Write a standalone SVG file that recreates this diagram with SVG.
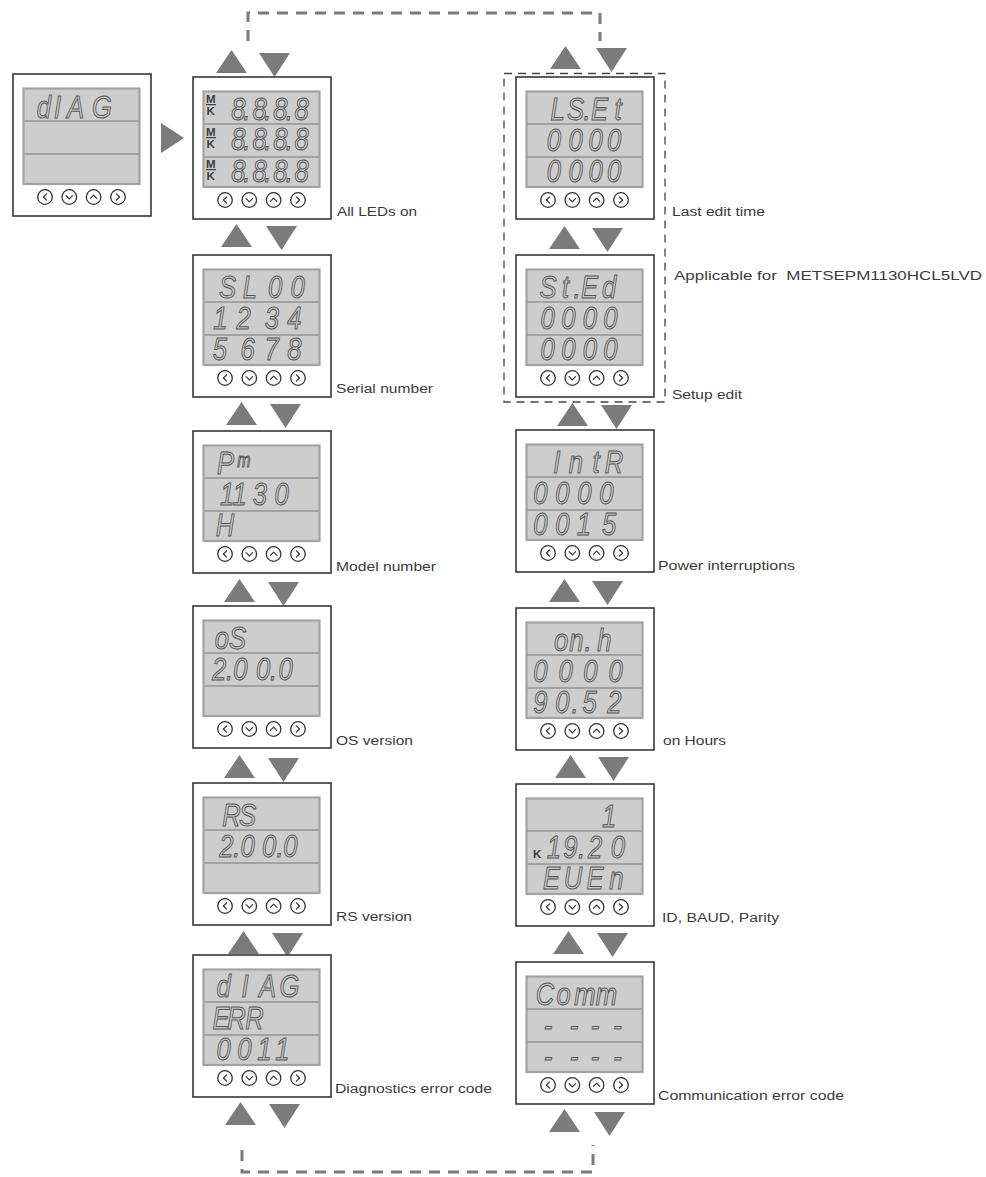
<svg xmlns="http://www.w3.org/2000/svg" xmlns:xlink="http://www.w3.org/1999/xlink" width="986" height="1177" viewBox="0 0 986 1177">
<style>
.box{fill:#fff;stroke:#363636;stroke-width:1.6}
.lcd{fill:#cdcdcd;stroke:#a2a2a2;stroke-width:2.2}
.dv{stroke:#a2a2a2;stroke-width:2}
.btn circle{fill:#fff;stroke:#333;stroke-width:1.3}
.btn polyline{fill:none;stroke:#333;stroke-width:1.2;stroke-linejoin:round;stroke-linecap:round}
.seg{font-family:"Liberation Sans",Arial,sans-serif;font-style:italic;font-size:32px;fill:#c8c8c8;stroke:#555;stroke-width:1;text-anchor:middle}
.segs{font-family:"Liberation Sans",Arial,sans-serif;font-style:italic;font-size:20px;fill:#c8c8c8;stroke:#555;stroke-width:1;text-anchor:middle}
.mk{font-family:"Liberation Sans",Arial,sans-serif;font-weight:bold;font-size:11.5px;fill:#3d3d3d}
.ul{stroke:#3d3d3d;stroke-width:1.2}
.tri{fill:#7b7b7b}
.dash{fill:none;stroke:#7b7b7b;stroke-width:3;stroke-dasharray:11 8}
.grp{fill:none;stroke:#444;stroke-width:1.3;stroke-dasharray:8 6}
.lbl{font-family:"Liberation Sans",Arial,sans-serif;font-size:12.5px;fill:#3a3a3a}
</style>
<defs>
<g id="chassis">
<rect class="box" x="0" y="0" width="138" height="142"/>
<rect class="lcd" x="10.5" y="14.5" width="116" height="95.5"/>
<line class="dv" x1="10.5" y1="47" x2="126.5" y2="47"/>
<line class="dv" x1="10.5" y1="80" x2="126.5" y2="80"/>
<g class="btn">
<circle cx="32" cy="123" r="7.3"/><polyline points="33.6,119.8 30.4,123 33.6,126.2"/>
<circle cx="56.3" cy="123" r="7.3"/><polyline points="53.1,121.6 56.3,124.8 59.5,121.6"/>
<circle cx="80.6" cy="123" r="7.3"/><polyline points="77.4,124.4 80.6,121.2 83.8,124.4"/>
<circle cx="105" cy="123" r="7.3"/><polyline points="103.4,119.8 106.6,123 103.4,126.2"/>
</g>
</g>
<path id="up" class="tri" d="M15.5,0 L31,23 L0,23 Z"/>
<path id="dn" class="tri" d="M0,0 L31,0 L15.5,24 Z"/>
</defs>

<g id="connectors">
<path class="dash" d="M248,41 V13 H600 V41"/>
<path class="dash" d="M242,1150 V1172 H593 V1145"/>
<rect class="grp" x="504" y="73.5" width="161" height="328.5"/>
<polygon class="tri" points="161,123 184,138 161,153"/>
<use href="#up" x="216" y="50"/><use href="#dn" x="259" y="53"/>
<use href="#up" x="221" y="224"/><use href="#dn" x="266" y="226"/>
<use href="#up" x="226" y="402"/><use href="#dn" x="270" y="404"/>
<use href="#up" x="224" y="579"/><use href="#dn" x="268" y="582"/>
<use href="#up" x="224" y="755"/><use href="#dn" x="268" y="758"/>
<use href="#up" x="228" y="931"/><use href="#dn" x="272" y="933"/>
<use href="#up" x="225" y="1102"/><use href="#dn" x="269" y="1104"/>
<use href="#up" x="550" y="46"/><use href="#dn" x="596" y="48"/>
<use href="#up" x="549" y="226"/><use href="#dn" x="592" y="228"/>
<use href="#up" x="557" y="403"/><use href="#dn" x="601" y="405"/>
<use href="#up" x="549" y="579"/><use href="#dn" x="592" y="581"/>
<use href="#up" x="555" y="755"/><use href="#dn" x="598" y="757"/>
<use href="#up" x="553" y="931"/><use href="#dn" x="597" y="933"/>
<use href="#up" x="549" y="1109"/><use href="#dn" x="594" y="1112"/>
</g>

<g id="node-diag">
<use href="#chassis" x="13" y="74"/>
<text class="seg" transform="scale(0.8 1)" x="55 71.9 94.4 127.5" y="118">dIAG</text>
</g>

<g id="node-all-leds">
<use href="#chassis" x="193" y="77"/>
<text class="mk" x="206" y="103">M</text><line class="ul" x1="206" y1="104.6" x2="216" y2="104.6"/><text class="mk" x="206.5" y="115">K</text>
<text class="mk" x="206" y="136">M</text><line class="ul" x1="206" y1="137.6" x2="216" y2="137.6"/><text class="mk" x="206.5" y="148">K</text>
<text class="mk" x="206" y="168">M</text><line class="ul" x1="206" y1="169.6" x2="216" y2="169.6"/><text class="mk" x="206.5" y="180">K</text>
<text class="seg" transform="scale(0.8 1)" x="298.1 308.5 324.4 334.8 350.6 361.6 376.9" y="120">8.8.8.8</text>
<text class="seg" transform="scale(0.8 1)" x="298.1 308.5 324.4 334.8 350.6 361.6 376.9" y="150.5">8.8.8.8</text>
<text class="seg" transform="scale(0.8 1)" x="298.1 308.5 324.4 334.8 350.6 361.6 376.9" y="182">8.8.8.8</text>
<text class="lbl" x="337" y="216" textLength="80" lengthAdjust="spacingAndGlyphs">All LEDs on</text>
</g>

<g id="node-serial">
<use href="#chassis" x="193" y="255"/>
<text class="seg" transform="scale(0.8 1)" x="284.4 312.5 343.8 371.9" y="298.5">SL00</text>
<text class="seg" transform="scale(0.8 1)" x="275.6 304.4 340 368.1" y="329">1234</text>
<text class="seg" transform="scale(0.8 1)" x="275 309.4 339.4 368.1" y="360.5">5678</text>
<text class="lbl" x="336" y="393" textLength="97" lengthAdjust="spacingAndGlyphs">Serial number</text>
</g>

<g id="node-model">
<use href="#chassis" x="193" y="431"/>
<text class="seg" transform="scale(0.8 1)" x="281.9" y="474.5">P</text>
<text class="segs" transform="scale(0.8 1)" x="305" y="467">m</text>
<text class="seg" transform="scale(0.8 1)" x="283.8 299.4 325 351.9" y="505">1130</text>
<text class="seg" transform="scale(0.8 1)" x="281.3" y="536.5">H</text>
<text class="lbl" x="336" y="571" textLength="100" lengthAdjust="spacingAndGlyphs">Model number</text>
</g>

<g id="node-os">
<use href="#chassis" x="193" y="606"/>
<text class="seg" transform="scale(0.8 1)" x="277.5 296.9" y="649.5">oS</text>
<text class="seg" transform="scale(0.8 1)" x="273.8 286.9 300.6 328.8 341.9 356.9" y="680">2.00.0</text>
<text class="lbl" x="336" y="745" textLength="77" lengthAdjust="spacingAndGlyphs">OS version</text>
</g>

<g id="node-rs">
<use href="#chassis" x="193" y="783"/>
<text class="seg" transform="scale(0.8 1)" x="289.4 309.4" y="826.5">RS</text>
<text class="seg" transform="scale(0.8 1)" x="283.1 295.9 309.4 336.3 350 363.1" y="857">2.00.0</text>
<text class="lbl" x="336" y="921" textLength="76" lengthAdjust="spacingAndGlyphs">RS version</text>
</g>

<g id="node-diag-error">
<use href="#chassis" x="193" y="955"/>
<text class="seg" transform="scale(0.8 1)" x="279.4 306.3 334.4 361.9" y="997">dIAG</text>
<text class="seg" transform="scale(0.8 1)" x="276.3 295.6 318.1" y="1029">ERR</text>
<text class="seg" transform="scale(0.8 1)" x="279.4 305.6 330.6 353.1" y="1060.5">0011</text>
<text class="lbl" x="335" y="1093" textLength="157" lengthAdjust="spacingAndGlyphs">Diagnostics error code</text>
</g>

<g id="node-last-edit">
<use href="#chassis" x="516" y="77"/>
<text class="seg" transform="scale(0.8 1)" x="696.9 719.4 733.8 749.4 772.5" y="120.5">LS.Et</text>
<text class="seg" transform="scale(0.8 1)" x="692.5 719.4 744.4 767.5" y="151">0000</text>
<text class="seg" transform="scale(0.8 1)" x="692.5 719.4 744.4 767.5" y="182.5">0000</text>
<text class="lbl" x="672" y="216" textLength="93" lengthAdjust="spacingAndGlyphs">Last edit time</text>
</g>

<g id="node-setup-edit">
<use href="#chassis" x="516" y="255"/>
<text class="seg" transform="scale(0.8 1)" x="685 706.9 721.3 736.9 761.3" y="298.5">St.Ed</text>
<text class="seg" transform="scale(0.8 1)" x="684.4 710.6 737.5 763.1" y="329">0000</text>
<text class="seg" transform="scale(0.8 1)" x="684.4 710.6 737.5 763.1" y="360.5">0000</text>
<text class="lbl" xml:space="preserve" x="674" y="280" textLength="308" lengthAdjust="spacingAndGlyphs">Applicable for  METSEPM1130HCL5LVD</text>
<text class="lbl" x="672" y="399" textLength="70" lengthAdjust="spacingAndGlyphs">Setup edit</text>
</g>

<g id="node-interruptions">
<use href="#chassis" x="516" y="430"/>
<text class="seg" transform="scale(0.8 1)" x="695.9 720 745 767.5" y="473.5">IntR</text>
<text class="seg" transform="scale(0.8 1)" x="675.6 703.1 730.6 758.1" y="504">0000</text>
<text class="seg" transform="scale(0.8 1)" x="675.6 703.1 730 761.3" y="535.5">0015</text>
<text class="lbl" x="658" y="570" textLength="137" lengthAdjust="spacingAndGlyphs">Power interruptions</text>
</g>

<g id="node-on-hours">
<use href="#chassis" x="516" y="608"/>
<text class="seg" transform="scale(0.8 1)" x="701.3 720.6 735 755.6" y="651.5">on.h</text>
<text class="seg" transform="scale(0.8 1)" x="675.6 706.9 738.1 769.4" y="682">0000</text>
<text class="seg" transform="scale(0.8 1)" x="675.6 703.1 718.8 736.9 768.1" y="713.5">90.52</text>
<text class="lbl" x="663" y="745" textLength="63" lengthAdjust="spacingAndGlyphs">on Hours</text>
</g>

<g id="node-comm-settings">
<use href="#chassis" x="516" y="784"/>
<text class="seg" transform="scale(0.8 1)" x="761.3" y="827.5">1</text>
<text class="mk" x="533" y="858">K</text>
<text class="seg" transform="scale(0.8 1)" x="692.5 713.1 727.1 743.8 772.5" y="858">19.20</text>
<text class="seg" transform="scale(0.8 1)" x="689.4 716.3 743.8 770.6" y="889.5">EUEn</text>
<text class="lbl" x="662" y="922" textLength="117" lengthAdjust="spacingAndGlyphs">ID, BAUD, Parity</text>
</g>

<g id="node-comm-error">
<use href="#chassis" x="516" y="962"/>
<text class="seg" transform="scale(0.8 1)" x="681.3 704.4 731.3 758.1" y="1005.5">Comm</text>
<text class="seg" transform="scale(0.8 1)" x="685 717.5 743.8 771.9" y="1036">----</text>
<text class="seg" transform="scale(0.8 1)" x="685 717.5 743.8 771.9" y="1067.5">----</text>
<text class="lbl" x="658" y="1100" textLength="186" lengthAdjust="spacingAndGlyphs">Communication error code</text>
</g>
</svg>
